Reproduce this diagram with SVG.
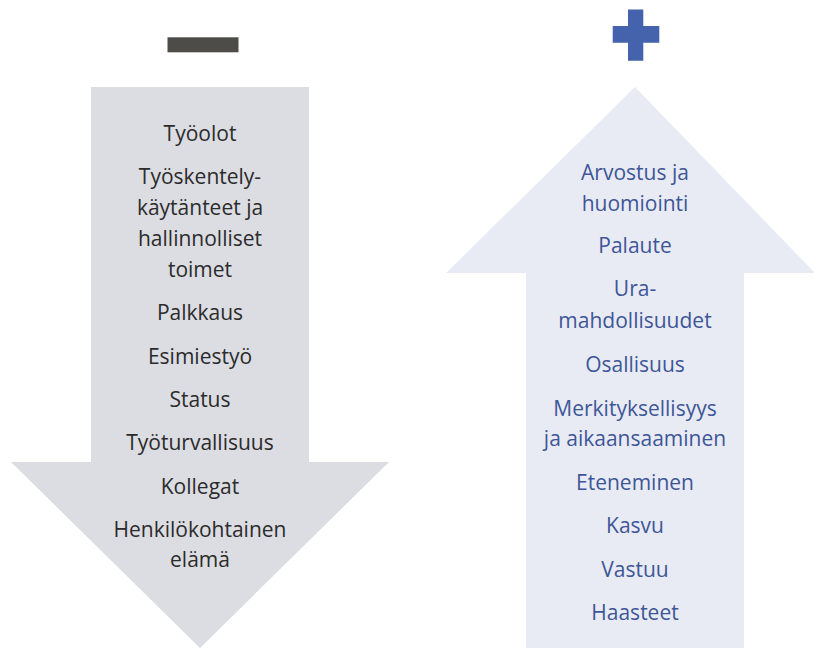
<svg xmlns="http://www.w3.org/2000/svg" width="814" height="648" viewBox="0 0 814 648">
<style>
.t{font-family:"Open Sans","Noto Sans","Liberation Sans",sans-serif;font-size:21px;text-anchor:middle}
.dk{fill:#2b2b2b}
.bl{fill:#3d5697}
</style>
<rect width="814" height="648" fill="#ffffff"/>
<g id="minus"><rect x="167.5" y="37.3" width="71" height="15" fill="#4e4c48"/></g>
<g id="plus"><path d="M628,9.5H643.3V26H659.3V42.7H643.3V60.7H628V42.7H612.7V26H628Z" fill="#4562ac"/></g>
<g id="down-arrow">
<path d="M91,87H309V462H389L200,648L11,462H91Z" fill="#dcdde2"/>
<text class="t dk" x="200" y="141">Työolot</text>
<text class="t dk" x="200" y="184">Työskentely-</text>
<text class="t dk" x="200" y="215">käytänteet ja</text>
<text class="t dk" x="200" y="246">hallinnolliset</text>
<text class="t dk" x="200" y="277">toimet</text>
<text class="t dk" x="200" y="320">Palkkaus</text>
<text class="t dk" x="200" y="364">Esimiestyö</text>
<text class="t dk" x="200" y="407">Status</text>
<text class="t dk" x="200" y="450">Työturvallisuus</text>
<text class="t dk" x="200" y="494">Kollegat</text>
<text class="t dk" x="200" y="537">Henkilökohtainen</text>
<text class="t dk" x="200" y="567">elämä</text>
</g>
<g id="up-arrow">
<path d="M635,87L815,273H744V648H526V273H446Z" fill="#e9ebf4"/>
<text class="t bl" x="635" y="180">Arvostus ja</text>
<text class="t bl" x="635" y="211">huomiointi</text>
<text class="t bl" x="635" y="253">Palaute</text>
<text class="t bl" x="635" y="296">Ura-</text>
<text class="t bl" x="635" y="328">mahdollisuudet</text>
<text class="t bl" x="635" y="372">Osallisuus</text>
<text class="t bl" x="635" y="416">Merkityksellisyys</text>
<text class="t bl" x="635" y="446">ja aikaansaaminen</text>
<text class="t bl" x="635" y="490">Eteneminen</text>
<text class="t bl" x="635" y="533">Kasvu</text>
<text class="t bl" x="635" y="577">Vastuu</text>
<text class="t bl" x="635" y="620">Haasteet</text>
</g>
<g id="connectors"></g>
</svg>
